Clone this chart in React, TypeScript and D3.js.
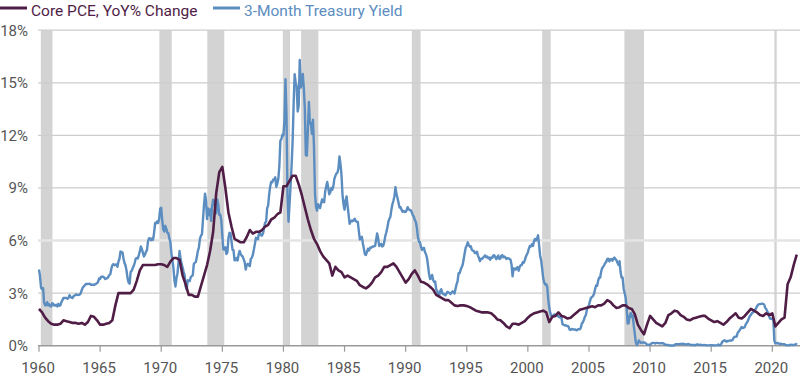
import React from "react";
import * as d3 from "d3";

// 3-Month Treasury Yield, monthly (%), Jan of each decade onward
const tbill1960s = [
  4.35, 3.96, 3.31, 3.23, 3.29, 2.46, 2.3, 2.3, 2.48, 2.3, 2.37, 2.25,
  2.24, 2.42, 2.39, 2.29, 2.29, 2.33, 2.24, 2.39, 2.28, 2.3, 2.48, 2.6,
  2.72, 2.73, 2.72, 2.73, 2.68, 2.73, 2.88, 2.78, 2.74, 2.72, 2.83, 2.87,
  2.91, 2.92, 2.89, 2.9, 2.92, 2.99, 3.18, 3.32, 3.38, 3.45, 3.52, 3.52,
  3.52, 3.53, 3.54, 3.47, 3.48, 3.48, 3.46, 3.5, 3.53, 3.57, 3.64, 3.84,
  3.81, 3.93, 3.93, 3.93, 3.89, 3.8, 3.84, 3.84, 3.92, 4.03, 4.08, 4.38,
  4.59, 4.65, 4.59, 4.62, 4.64, 4.5, 4.8, 4.96, 5.37, 5.35, 5.32, 4.96,
  4.72, 4.56, 4.26, 3.84, 3.6, 3.54, 4.21, 4.27, 4.42, 4.56, 4.73, 4.97,
  5.0, 4.98, 5.17, 5.38, 5.66, 5.52, 5.31, 5.09, 5.19, 5.35, 5.45, 5.94,
  6.13, 6.12, 6.02, 6.11, 6.04, 6.44, 7.0, 6.98, 7.09, 7.0, 7.24, 7.82,
];
const tbill1970s = [
  7.87, 7.13, 6.63, 6.51, 6.84, 6.68, 6.45, 6.41, 6.12, 5.91, 5.28, 4.87,
  4.44, 3.7, 3.38, 3.86, 4.14, 4.75, 5.4, 4.94, 4.69, 4.46, 4.22, 4.01,
  3.38, 3.2, 3.73, 3.71, 3.69, 3.91, 3.98, 4.02, 4.66, 4.74, 4.78, 5.07,
  5.41, 5.6, 6.09, 6.26, 6.36, 7.19, 8.01, 8.67, 8.29, 7.22, 7.83, 7.45,
  7.77, 7.12, 7.96, 8.33, 8.23, 7.9, 7.55, 8.35, 8.06, 7.46, 7.47, 7.15,
  6.26, 5.5, 5.49, 5.61, 5.23, 5.34, 6.13, 6.44, 6.42, 5.96, 5.48, 5.44,
  4.87, 4.88, 5.0, 4.86, 5.2, 5.41, 5.23, 5.14, 5.08, 4.92, 4.75, 4.35,
  4.62, 4.67, 4.6, 4.54, 4.96, 5.02, 5.19, 5.49, 5.81, 6.16, 6.1, 6.07,
  6.44, 6.45, 6.29, 6.29, 6.41, 6.73, 7.01, 7.08, 7.85, 7.99, 8.64, 9.08,
  9.35, 9.32, 9.48, 9.46, 9.61, 9.06, 9.24, 9.52, 10.26, 11.7, 11.79, 12.04,
];
const tbill1980s = [
  12.0, 12.86, 15.2, 13.2, 8.58, 7.07, 8.06, 9.13, 10.27, 11.62, 13.73, 15.49,
  15.02, 14.79, 13.36, 13.69, 16.3, 14.73, 14.95, 15.51, 14.7, 13.54, 10.86, 10.85,
  12.28, 13.9, 12.68, 12.7, 12.09, 12.9, 11.35, 8.68, 7.92, 7.71, 8.07, 7.94,
  7.86, 8.11, 8.35, 8.21, 8.19, 8.79, 9.08, 9.34, 9.0, 8.64, 8.76, 9.0,
  8.9, 9.09, 9.52, 9.69, 9.83, 9.87, 10.12, 10.8, 10.37, 9.74, 8.61, 8.06,
  7.76, 8.27, 8.52, 7.95, 7.48, 6.95, 7.08, 7.14, 7.1, 7.16, 7.24, 7.1,
  7.07, 7.06, 6.56, 6.06, 6.15, 6.21, 5.83, 5.53, 5.21, 5.18, 5.35, 5.53,
  5.43, 5.59, 5.59, 5.64, 5.66, 5.67, 5.69, 6.04, 6.4, 6.13, 5.69, 5.77,
  5.81, 5.66, 5.7, 5.91, 6.26, 6.46, 6.73, 7.06, 7.24, 7.35, 7.76, 8.07,
  8.27, 8.53, 9.05, 8.65, 8.43, 8.15, 7.88, 7.9, 7.75, 7.64, 7.69, 7.63,
];
const tbill1990s = [
  7.64, 7.74, 7.9, 7.77, 7.74, 7.73, 7.62, 7.45, 7.36, 7.17, 7.06, 6.74,
  6.22, 5.94, 5.91, 5.65, 5.46, 5.57, 5.58, 5.33, 5.22, 4.99, 4.56, 4.07,
  3.8, 3.84, 4.04, 3.75, 3.63, 3.66, 3.21, 3.13, 2.91, 2.86, 3.13, 3.22,
  3.0, 2.93, 2.95, 2.87, 2.96, 3.07, 3.04, 3.02, 2.95, 3.02, 3.1, 3.06,
  2.98, 3.25, 3.5, 3.68, 4.14, 4.14, 4.33, 4.48, 4.62, 4.95, 5.29, 5.6,
  5.71, 5.9, 5.73, 5.65, 5.67, 5.47, 5.42, 5.4, 5.28, 5.28, 5.36, 5.14,
  5.0, 4.83, 4.96, 4.95, 5.02, 5.09, 5.15, 5.05, 5.09, 4.99, 5.03, 4.91,
  5.03, 5.01, 5.14, 5.16, 5.05, 4.93, 5.05, 5.14, 4.95, 4.97, 5.14, 5.16,
  5.04, 5.09, 5.03, 4.95, 5.0, 4.98, 4.96, 4.9, 4.61, 3.96, 4.41, 4.39,
  4.34, 4.45, 4.48, 4.28, 4.51, 4.59, 4.6, 4.76, 4.73, 4.88, 5.07, 5.2,
];
const tbill2000s = [
  5.32, 5.55, 5.69, 5.66, 5.79, 5.69, 5.96, 6.09, 6.0, 6.11, 6.3, 5.77,
  5.15, 4.88, 4.42, 3.87, 3.62, 3.49, 3.51, 3.36, 2.64, 2.16, 1.87, 1.69,
  1.65, 1.73, 1.79, 1.72, 1.73, 1.7, 1.68, 1.62, 1.63, 1.58, 1.23, 1.19,
  1.17, 1.17, 1.13, 1.13, 1.07, 0.92, 0.9, 0.95, 0.94, 0.92, 0.93, 0.9,
  0.88, 0.93, 0.94, 0.94, 1.02, 1.27, 1.33, 1.48, 1.65, 1.76, 2.07, 2.19,
  2.33, 2.54, 2.74, 2.78, 2.84, 2.97, 3.22, 3.44, 3.42, 3.71, 3.88, 3.89,
  4.24, 4.43, 4.51, 4.6, 4.72, 4.79, 4.95, 4.96, 4.81, 4.92, 4.94, 4.85,
  4.98, 5.03, 4.94, 4.87, 4.73, 4.61, 4.82, 4.2, 3.89, 3.9, 3.27, 3.0,
  2.75, 2.12, 1.26, 1.29, 1.73, 1.86, 1.63, 1.72, 1.13, 0.67, 0.19, 0.03,
  0.13, 0.3, 0.22, 0.16, 0.18, 0.18, 0.18, 0.17, 0.12, 0.07, 0.05, 0.05,
];
const tbill2010s = [
  0.06, 0.11, 0.15, 0.16, 0.16, 0.12, 0.16, 0.16, 0.15, 0.13, 0.14, 0.14,
  0.15, 0.13, 0.1, 0.06, 0.04, 0.04, 0.04, 0.02, 0.01, 0.02, 0.01, 0.01,
  0.03, 0.09, 0.08, 0.08, 0.09, 0.09, 0.1, 0.1, 0.11, 0.1, 0.09, 0.07,
  0.07, 0.1, 0.09, 0.06, 0.04, 0.05, 0.04, 0.04, 0.02, 0.05, 0.07, 0.07,
  0.04, 0.05, 0.05, 0.03, 0.03, 0.04, 0.03, 0.03, 0.02, 0.02, 0.02, 0.03,
  0.03, 0.02, 0.03, 0.02, 0.02, 0.02, 0.03, 0.07, 0.02, 0.02, 0.12, 0.23,
  0.26, 0.31, 0.29, 0.23, 0.27, 0.27, 0.3, 0.3, 0.29, 0.33, 0.45, 0.51,
  0.51, 0.52, 0.74, 0.8, 0.89, 0.98, 1.07, 1.01, 1.03, 1.07, 1.23, 1.32,
  1.41, 1.57, 1.7, 1.76, 1.86, 1.9, 1.96, 2.03, 2.13, 2.25, 2.33, 2.37,
  2.37, 2.39, 2.4, 2.38, 2.35, 2.17, 2.1, 1.95, 1.89, 1.65, 1.54, 1.54,
];
const tbill2020s = [
  1.52, 1.52, 0.29, 0.14, 0.13, 0.16, 0.13, 0.1, 0.11, 0.1, 0.09, 0.09,
  0.08, 0.04, 0.03, 0.02, 0.02, 0.04, 0.05, 0.05, 0.04, 0.05, 0.05, 0.06,
  0.15,
];

// Core PCE YoY % change, quarterly from 1960 Q1
const pce1960s = [
  2.1, 1.9, 1.6, 1.4, 1.25, 1.2, 1.2, 1.25, 1.45, 1.4, 1.35, 1.3,
  1.3, 1.25, 1.3, 1.2, 1.35, 1.7, 1.65, 1.45, 1.2, 1.2, 1.25, 1.3,
  1.45, 2.3, 3.0, 3.0, 3.0, 3.0, 3.0, 3.2, 3.7, 4.3, 4.6, 4.6,
  4.6, 4.6, 4.6, 4.65,
];
const pce1970s = [
  4.65, 4.6, 4.5, 4.8, 5.0, 5.0, 4.9, 4.0, 3.5, 2.9, 2.9, 2.8,
  2.8, 3.4, 4.0, 4.6, 5.4, 6.5, 8.7, 9.9, 10.2, 9.0, 7.6, 6.8,
  6.1, 6.0, 5.9, 5.9, 6.2, 6.6, 6.4, 6.5, 6.5, 6.6, 6.8, 6.9,
  7.2, 7.3, 7.5, 7.6,
];
const pce1980s = [
  9.1, 9.1, 9.4, 9.7, 9.7, 9.2, 8.6, 7.9, 7.2, 6.6, 6.1, 5.8,
  5.4, 5.1, 4.9, 4.7, 4.0, 4.5, 4.3, 4.2, 3.9, 4.0, 3.9, 3.8,
  3.7, 3.45, 3.35, 3.27, 3.4, 3.6, 3.9, 4.0, 4.2, 4.5, 4.5, 4.6,
  4.7, 4.5, 4.2, 3.9,
];
const pce1990s = [
  3.6, 3.8, 4.1, 4.3, 4.0, 3.65, 3.6, 3.5, 3.36, 3.2, 2.9, 2.8,
  2.7, 2.6, 2.6, 2.45, 2.3, 2.26, 2.3, 2.3, 2.26, 2.2, 2.1, 2.0,
  1.95, 1.9, 1.9, 1.9, 1.85, 1.7, 1.5, 1.45, 1.3, 1.1, 1.0, 1.25,
  1.25, 1.2, 1.3, 1.4,
];
const pce2000s = [
  1.6, 1.75, 1.85, 1.9, 1.95, 2.0, 1.9, 1.35, 1.65, 1.7, 1.9, 1.7,
  1.65, 1.55, 1.6, 1.75, 1.9, 2.05, 2.1, 2.15, 2.2, 2.25, 2.2, 2.3,
  2.3, 2.4, 2.6, 2.5, 2.3, 2.15, 2.2, 2.3, 2.3, 2.15, 2.1, 1.8,
  1.2, 0.9, 0.65, 1.2,
];
const pce2010s = [
  1.7, 1.5, 1.3, 1.2, 1.1, 1.3, 1.75, 1.85, 2.0, 1.95, 1.75, 1.65,
  1.5, 1.45, 1.55, 1.6, 1.65, 1.7, 1.7, 1.55, 1.45, 1.35, 1.4, 1.3,
  1.2, 1.35, 1.55, 1.7, 1.85, 1.6, 1.55, 1.7, 1.9, 2.1, 2.0, 1.9,
  1.75, 1.7, 1.85, 1.75,
];
const pce2020s = [1.85, 1.1, 1.3, 1.5, 1.6, 3.5, 3.9, 4.6, 5.2];

const recessions: [number, number][] = [
  [1960.15, 1961.1],
  [1969.85, 1970.86],
  [1973.77, 1975.16],
  [1979.95, 1980.54],
  [1981.45, 1982.86],
  [1990.5, 1991.22],
  [2001.17, 2001.87],
  [2007.9, 2009.5],
  [2020.17, 2020.36],
];

const yTicks = [0, 3, 6, 9, 12, 15, 18];
const xTicks = [1960, 1965, 1970, 1975, 1980, 1985, 1990, 1995, 2000, 2005, 2010, 2015, 2020];

const PCE_COLOR = "#4f1d46";
const TB_COLOR = "#5b8dc0";
const FONT = "Roboto, 'Open Sans', sans-serif";

export default function App() {
  const W = 800;
  const H = 376;
  const x = d3.scaleLinear().domain([1960, 2020]).range([39, 772.3]);
  const y = d3.scaleLinear().domain([0, 18]).range([345.7, 30.2]);

  const tbill = [
    ...tbill1960s, ...tbill1970s, ...tbill1980s, ...tbill1990s,
    ...tbill2000s, ...tbill2010s, ...tbill2020s,
  ];
  const pce = [
    ...pce1960s, ...pce1970s, ...pce1980s, ...pce1990s,
    ...pce2000s, ...pce2010s, ...pce2020s,
  ];
  const tbPts: [number, number][] = tbill.map((v, i) => [1960 + i / 12, v]);
  const pcePts: [number, number][] = pce.map((v, i) => [1960 + i / 4, v]);
  const line = d3
    .line<[number, number]>()
    .x((d) => x(d[0]))
    .y((d) => y(d[1]));

  const left = 38;
  const right = 800;

  return (
    <svg
      width={W}
      height={H}
      style={{ position: "absolute", left: 0, top: 0, background: "#fff" }}
      fontFamily={FONT}
    >
      {recessions.map(([a, b], i) => (
        <rect key={i} x={x(a)} y={y(18)} width={x(b) - x(a)} height={y(0) - y(18)} fill="#d3d3d3" />
      ))}
      {yTicks.filter((t) => t > 0).map((t) => (
        <line
          key={t}
          x1={left}
          x2={right}
          y1={y(t)}
          y2={y(t)}
          stroke={t === 6 ? "#e4e4e4" : "#cdcdcd"}
          strokeWidth={t === 6 ? 2.5 : 1.2}
        />
      ))}
      {yTicks.map((t) => (
        <text
          key={t}
          x={28}
          y={y(t)}
          dy="0.36em"
          textAnchor="end"
          fontSize={15}
          fill="#555"
        >
          {t}%
        </text>
      ))}
      <line x1={left} x2={right} y1={y(0)} y2={y(0)} stroke="#9a9a9a" strokeWidth={1.5} />
      {xTicks.map((t) => (
        <g key={t}>
          <line x1={x(t)} x2={x(t)} y1={y(0)} y2={y(0) + 6} stroke="#9a9a9a" strokeWidth={1.2} />
          <text x={x(t) - 1} y={373} textAnchor="middle" fontSize={15} fill="#555">
            {t}
          </text>
        </g>
      ))}
      <path d={line(tbPts) || ""} fill="none" stroke={TB_COLOR} strokeWidth={2.4} strokeLinejoin="round" />
      <path d={line(pcePts) || ""} fill="none" stroke={PCE_COLOR} strokeWidth={2.6} strokeLinejoin="round" />
      <line x1={0} x2={27} y1={8} y2={8} stroke={PCE_COLOR} strokeWidth={3} />
      <text x={31} y={16} fontSize={15.5} fill={PCE_COLOR}>
        Core PCE, YoY% Change
      </text>
      <line x1={213} x2={240} y1={8} y2={8} stroke={TB_COLOR} strokeWidth={3} />
      <text x={244} y={16} fontSize={15.5} fill={TB_COLOR}>
        3-Month Treasury Yield
      </text>
    </svg>
  );
}
